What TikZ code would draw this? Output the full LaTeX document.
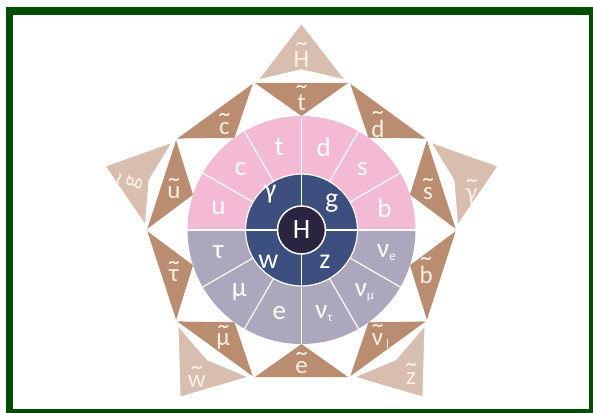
\documentclass[tikz,border=0pt]{standalone}
\usepackage{graphicx}
\usepackage{fontspec}
\setmainfont{Carlito}
\definecolor{frame}{RGB}{0,77,0}
\definecolor{quark}{RGB}{244,186,212}
\definecolor{lepton}{RGB}{172,167,188}
\definecolor{boson}{RGB}{60,79,126}
\definecolor{higgs}{RGB}{42,36,64}
\definecolor{sferm}{RGB}{186,141,113}
\definecolor{sbos}{RGB}{216,190,174}
\definecolor{cream}{RGB}{252,241,228}
\newcommand\sq[1]{\vbox{\offinterlineskip\halign{\hfil##\hfil\cr\scalebox{1.5}[1.2]{\char"02DC}\cr\noalign{\kern-0.45em}#1\cr}}}
\newcommand\lo[1]{{\fontsize{13}{13}\selectfont\raisebox{-3pt}{#1}}}

\begin{document}
\begin{tikzpicture}[x=1pt,y=1pt,
    sfermion/.style={fill=sferm,draw=white,line width=0.6pt,line join=round},
    sboson/.style={fill=sbos,draw=white,line width=1.5pt,line join=round},
    slabel/.style={text=cream,inner sep=0pt,font=\fontsize{25}{27}\selectfont},
    rlabel/.style={text=white,inner sep=0pt,font=\fontsize{27}{29}\selectfont},
    blabel/.style={text=white,inner sep=0pt,font=\fontsize{28}{30}\selectfont},
    spoke/.style={white,line width=1.2pt}]
  \useasboundingbox (-301.5,-182) rectangle (291.5,230);
  \fill[frame] (-295.5,223.3) rectangle (300,-190);
  \fill[white] (-288.8,215) rectangle (287.8,-179);

  \coordinate (O) at (0,0);
  \coordinate (v0) at (0:155);
  \coordinate (v1) at (36:155);
  \coordinate (v2) at (72:155);
  \coordinate (v3) at (108:155);
  \coordinate (v4) at (144:155);
  \coordinate (v5) at (180:155);
  \coordinate (v6) at (216:155);
  \coordinate (v7) at (252:155);
  \coordinate (v8) at (288:155);
  \coordinate (v9) at (324:155);

  % superpartners of the bosons
  \draw[sboson] (90:207) -- (106.5:156) -- (90:160) -- (73.5:156) -- cycle;
  \draw[sboson] (18:207) -- (34.5:156) -- (18:160) -- (1.5:156) -- cycle;
  \draw[sboson] (162:207) -- (178.5:156) -- (162:160) -- (145.5:156) -- cycle;
  \draw[sboson] (234:207) -- (250.5:156) -- (234:160) -- (217.5:156) -- cycle;
  \draw[sboson] (306:207) -- (322.5:156) -- (306:160) -- (289.5:156) -- cycle;

  % superpartners of the fermions
  \draw[sfermion] (v2) -- (v3) -- (90:113.5) -- cycle;
  \draw[sfermion] (v3) -- (v4) -- (126:113.5) -- cycle;
  \draw[sfermion] (v4) -- (v5) -- (162:113.5) -- cycle;
  \draw[sfermion] (v5) -- (v6) -- (198:113.5) -- cycle;
  \draw[sfermion] (v6) -- (v7) -- (234:113.5) -- cycle;
  \draw[sfermion] (v7) -- (v8) -- (270:113.5) -- cycle;
  \draw[sfermion] (v8) -- (v9) -- (306:113.5) -- cycle;
  \draw[sfermion] (v9) -- (v0) -- (342:113.5) -- cycle;
  \draw[sfermion] (v0) -- (v1) -- (18:113.5) -- cycle;
  \draw[sfermion] (v1) -- (v2) -- (54:113.5) -- cycle;

  % standard model wheel
  \fill[quark] (114,0) arc (0:180:114) -- cycle;
  \fill[lepton] (-114,0) arc (180:360:114) -- cycle;
  \fill[boson] (O) circle (56);
  \draw[spoke] (30:56) -- (30:114) (60:56) -- (60:114)
    (120:56) -- (120:114) (150:56) -- (150:114)
    (210:56) -- (210:114) (240:56) -- (240:114)
    (300:56) -- (300:114) (330:56) -- (330:114);
  \draw[spoke] (-114,0) -- (114,0);
  \draw[spoke] (0,-114) -- (0,114);
  \draw[spoke] (O) circle (56);
  \filldraw[fill=higgs,draw=white,line width=1.5pt] (O) circle (24);

  \node[slabel] (sH) at (90:175) {\sq{H}};
  \node[slabel] (sgam) at (170.2,38.3) {\sq{γ}};
  \node[slabel,rotate=72] (sg) at (-171.5,48.3) {\sq{g}};
  \node[slabel] (sz) at (109.5,-144) {\sq{z}};
  \node[slabel] (sw) at (-104.8,-147) {\sq{w}};

  \node[slabel] (st) at (90:132) {\sq{t}};
  \node[slabel] (sc) at (126:131) {\sq{c}};
  \node[slabel] (su) at (162:134) {\sq{u}};
  \node[slabel] (stau) at (198:134) {\sq{τ}};
  \node[slabel] (smu) at (234:133) {\sq{μ}};
  \node[slabel] (se) at (270:133) {\sq{e}};
  \node[slabel] (snu) at (306:132) {\sq{ν}\lo{l}};
  \node[slabel] (sb) at (342:131) {\sq{b}};
  \node[slabel] (ss) at (18:133) {\sq{s}};
  \node[slabel] (sd) at (54:130) {\sq{d}};

  \node[rlabel] (qt) at (105:86) {t};
  \node[rlabel] (qd) at (75:86) {d};
  \node[rlabel] (qc) at (135:86) {c};
  \node[rlabel] (qs) at (45:86) {s};
  \node[rlabel] (qu) at (165:86) {u};
  \node[rlabel] (qb) at (15:86) {b};
  \node[rlabel] (ltau) at (195:86) {τ};
  \node[rlabel] (lnue) at (345:88) {ν\lo{e}};
  \node[rlabel] (lmu) at (225:88) {μ};
  \node[rlabel] (lnumu) at (315:89) {ν\lo{μ}};
  \node[rlabel] (le) at (255:86) {e};
  \node[rlabel] (lnutau) at (285:87) {ν\lo{τ}};

  \node[blabel] (bgam) at (-31.5,36) {γ};
  \node[blabel] (bg) at (30.2,27) {g};
  \node[blabel] (bw) at (-33,-31.7) {w};
  \node[blabel] (bz) at (23.5,-31.7) {z};
  \node[blabel] (h) at (O) {H};
\end{tikzpicture}
\end{document}
